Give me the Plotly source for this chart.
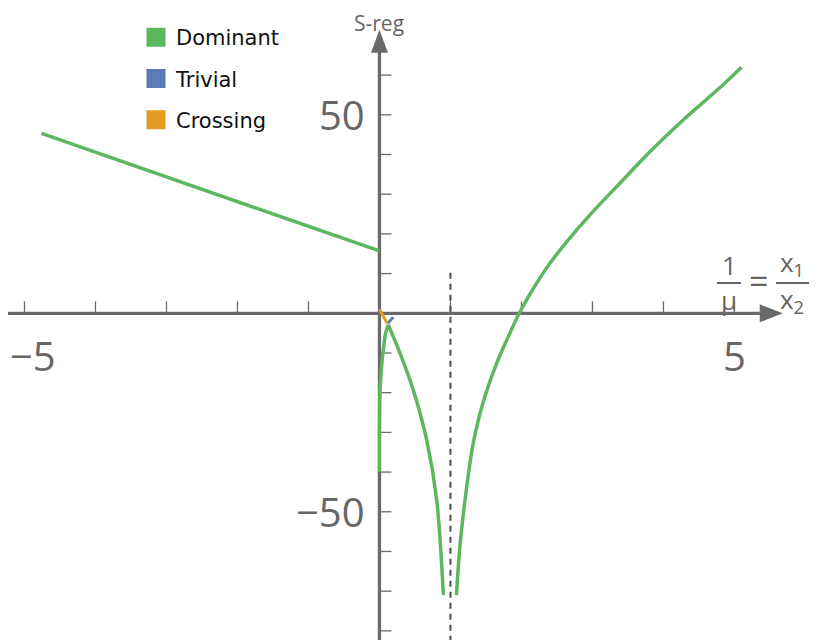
import plotly.graph_objects as go

# curve values
dom_left_x = [-4.76, 0.0]
dom_left_y = [45.3, 15.7]

dom_rise_x = [0.0, 0.0, 0.007, 0.03, 0.054, 0.087, 0.124]
dom_rise_y = [-39.9, -30.0, -20.2, -13.4, -9.2, -5.0, -2.9]

dom_fall_x = [0.124, 0.29, 0.476, 0.665, 0.806, 0.90]
dom_fall_y = [-2.9, -10.1, -19.3, -31.9, -47.0, -71.0]

dom_right_x = [1.085, 1.134, 1.228, 1.32, 1.415, 1.54, 1.673, 1.814, 1.969, 2.214, 2.401,
               2.637, 2.965, 3.341, 3.81, 4.279, 4.749, 5.10]
dom_right_y = [-71.0, -58.5, -43.8, -32.8, -25.3, -18.0, -11.6, -5.9, 0.0, 7.6, 12.6,
               18.0, 24.8, 31.9, 40.7, 48.7, 56.1, 62.0]

triv_x = [0.115, 0.195]
triv_y = [-2.5, -1.0]

cross_x = [0.0, 0.11]
cross_y = [1.0, -2.6]

pole_x = 1.0
pole_top = 10.2

x_ticks = [-5, -4, -3, -2, -1, 1, 2, 3, 4, 5]
y_ticks = [-80, -70, -60, -50, -40, -30, -20, -10, 10, 20, 30, 40, 50, 60]
x_labels = {-5: "\u22125", 5: "5"}
y_labels = {50: "50", -50: "\u221250"}

# page has an 8px body margin, so the figure is drawn 8px in from the corner
W, H = 823, 632
OFF = 8
x_range = [-5.232, 6.36]
y_range = [-82.3, 76.9]
x_tip = 5.68
y_tip = 71.4

GREEN = "#5db75f"
BLUE = "#5a7db6"
ORANGE = "#e39d24"
AXIS = "#6a6a6a"
TEXT = "#666666"

fig = go.Figure()

for xs, ys in [(dom_left_x, dom_left_y), (dom_rise_x, dom_rise_y),
               (dom_fall_x, dom_fall_y), (dom_right_x, dom_right_y)]:
    fig.add_trace(go.Scatter(x=xs, y=ys, mode="lines", showlegend=False,
                             line=dict(color=GREEN, width=3.5, shape="spline", smoothing=0.9)))
fig.add_trace(go.Scatter(x=triv_x, y=triv_y, mode="lines", showlegend=False,
                         line=dict(color=BLUE, width=3)))
fig.add_trace(go.Scatter(x=cross_x, y=cross_y, mode="lines", showlegend=False,
                         line=dict(color=ORANGE, width=3)))

# pole marker
fig.add_trace(go.Scatter(x=[pole_x, pole_x], y=[pole_top, y_range[0]], mode="lines",
                         showlegend=False, line=dict(color="#4a4a4a", width=2, dash="6px,5px")))

# legend swatches
for name, col in [("Dominant", GREEN), ("Trivial", BLUE), ("Crossing", ORANGE)]:
    fig.add_trace(go.Scatter(x=[None], y=[None], mode="markers", name=name, legendgroup=name,
                             marker=dict(symbol="square", size=16, color=col,
                                         line=dict(color=col, width=3))))

shapes = []
# axes lines
shapes.append(dict(type="line", xref="x", yref="y", x0=x_range[0] - 0.1, x1=x_tip - 0.2,
                   y0=0, y1=0, line=dict(color=AXIS, width=3.3), layer="below"))
shapes.append(dict(type="line", xref="x", yref="y", x0=0, x1=0, y0=y_range[0],
                   y1=y_tip - 4, line=dict(color=AXIS, width=3.3), layer="below"))
# arrow heads
shapes.append(dict(type="path", xref="x", yref="y", xsizemode="pixel", ysizemode="pixel",
                   xanchor=x_tip, yanchor=0, path="M0,0 L-23,9 L-23,-9 Z",
                   fillcolor=AXIS, line=dict(width=0)))
shapes.append(dict(type="path", xref="x", yref="y", xsizemode="pixel", ysizemode="pixel",
                   xanchor=0, yanchor=y_tip, path="M0,0 L-8.5,-23 L8.5,-23 Z",
                   fillcolor=AXIS, line=dict(width=0)))
# ticks
for t in x_ticks:
    shapes.append(dict(type="line", xref="x", yref="y", ysizemode="pixel", yanchor=0,
                       x0=t, x1=t, y0=0, y1=12, line=dict(color=AXIS, width=1.3), layer="below"))
for t in y_ticks:
    shapes.append(dict(type="line", xref="x", yref="y", xsizemode="pixel", xanchor=0,
                       x0=0, x1=12, y0=t, y1=t, line=dict(color=AXIS, width=1.3), layer="below"))


def px(x):
    return (x - OFF) / W


def py(y):
    return 1 - (y - OFF) / H


ann = []
for t, s in x_labels.items():
    ann.append(dict(x=t, y=0, xref="x", yref="y", text=s, showarrow=False, yshift=-42,
                    xshift=9 if t < 0 else 0,
                    font=dict(size=40, color=TEXT, family="Open Sans")))
for t, s in y_labels.items():
    ann.append(dict(x=0, y=t, xref="x", yref="y", text=s, showarrow=False, xanchor="right",
                    xshift=-12, font=dict(size=40, color=TEXT, family="Open Sans")))
ann.append(dict(x=0, y=1, xref="x", yref="paper", text="S-reg", showarrow=False,
                xanchor="center", yanchor="top", yshift=1,
                font=dict(size=21, color=TEXT, family="Open Sans")))

# x-axis label as a fraction: 1/μ = x1/x2
fr = dict(size=26, color=TEXT, family="Open Sans")
frac = [(729, 265, "1", 26), (729, 300, "\u03bc", 26), (758, 281, "=", 34),
        (792, 263, "x<sub>1</sub>", 26), (792, 300, "x<sub>2</sub>", 26)]
for fx, fy, s, fs in frac:
    ann.append(dict(x=px(fx), y=py(fy), xref="paper", yref="paper", text=s, showarrow=False,
                    xanchor="center", yanchor="middle", font=dict(fr, size=fs)))
shapes.append(dict(type="line", xref="paper", yref="paper", x0=px(717), x1=px(741),
                   y0=py(283), y1=py(283), line=dict(color=TEXT, width=2)))
shapes.append(dict(type="line", xref="paper", yref="paper", x0=px(776), x1=px(809),
                   y0=py(283), y1=py(283), line=dict(color=TEXT, width=2)))

fig.update_layout(
    width=W, height=H,
    margin=dict(l=0, r=0, t=0, b=0),
    plot_bgcolor="white", paper_bgcolor="white",
    xaxis=dict(range=x_range, visible=False, fixedrange=True),
    yaxis=dict(range=y_range, visible=False, fixedrange=True),
    shapes=shapes,
    annotations=ann,
    legend=dict(x=px(136), y=py(17), xanchor="left", yanchor="top", tracegroupgap=11,
                bgcolor="rgba(0,0,0,0)",
                font=dict(size=21, color="#111111", family="DejaVu Sans")),
)

fig.write_html("out.html")
